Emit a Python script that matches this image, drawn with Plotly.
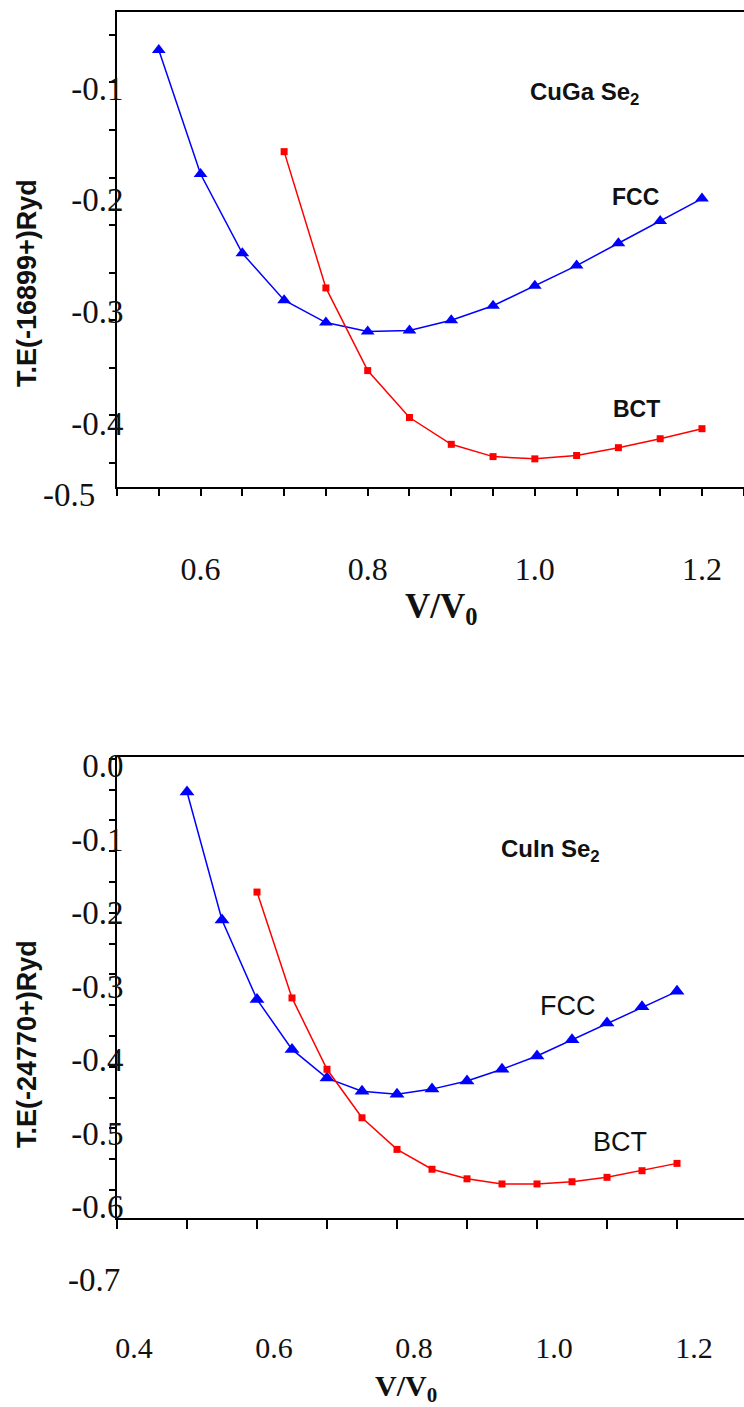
import plotly.graph_objects as go

# ---------------- data ----------------
# Top panel: CuGaSe2
fcc_top_x = [0.55, 0.60, 0.65, 0.70, 0.75, 0.80, 0.85, 0.90, 0.95, 1.00, 1.05, 1.10, 1.15, 1.20]
fcc_top_y = [-0.066, -0.177, -0.248, -0.290, -0.310, -0.318, -0.317, -0.308, -0.295, -0.277,
             -0.259, -0.239, -0.219, -0.199]
bct_top_x = [0.70, 0.75, 0.80, 0.85, 0.90, 0.95, 1.00, 1.05, 1.10, 1.15, 1.20]
bct_top_y = [-0.157, -0.279, -0.353, -0.395, -0.419, -0.430, -0.432, -0.429, -0.422, -0.414, -0.405]

# Bottom panel: CuInSe2
fcc_bot_x = [0.50, 0.55, 0.60, 0.65, 0.70, 0.75, 0.80, 0.85, 0.90, 0.95, 1.00, 1.05, 1.10, 1.15, 1.20]
fcc_bot_y = [-0.036, -0.210, -0.318, -0.386, -0.425, -0.443, -0.447, -0.440, -0.429, -0.413,
             -0.395, -0.373, -0.350, -0.328, -0.307]
bct_bot_x = [0.60, 0.65, 0.70, 0.75, 0.80, 0.85, 0.90, 0.95, 1.00, 1.05, 1.10, 1.15, 1.20]
bct_bot_y = [-0.172, -0.316, -0.413, -0.479, -0.522, -0.549, -0.562, -0.569, -0.569, -0.566,
             -0.560, -0.551, -0.541]

# tick labels
top_xticks = [0.6, 0.8, 1.0, 1.2]
top_yticks = [-0.1, -0.2, -0.3, -0.4]
bot_xticks = [0.4, 0.6, 0.8, 1.0, 1.2]
bot_yticks = [0.0, -0.1, -0.2, -0.3, -0.4, -0.5, -0.6]

# ---------------- figure ----------------
W, H = 744, 1407
BLUE = "#0000ff"
RED = "#ff0000"
SERIF = "Liberation Serif"
SANS = "Liberation Sans"


def px(x):
    return x / W


def py(y):
    return 1 - y / H


fig = go.Figure()


def add_pair(xa, ya, fx, fy, bx, by, tri):
    fig.add_trace(go.Scatter(x=fx, y=fy, xaxis=xa, yaxis=ya, mode="lines+markers", name="FCC",
                             line=dict(color=BLUE, width=1.5),
                             marker=dict(symbol="triangle-up", size=tri, color=BLUE)))
    fig.add_trace(go.Scatter(x=bx, y=by, xaxis=xa, yaxis=ya, mode="lines+markers", name="BCT",
                             line=dict(color=RED, width=1.5),
                             marker=dict(symbol="square", size=7, color=RED)))


add_pair("x", "y", fcc_top_x, fcc_top_y, bct_top_x, bct_top_y, 12)
add_pair("x2", "y2", fcc_bot_x, fcc_bot_y, bct_bot_x, bct_bot_y, 13)

xdom = [px(117), 1.0]
top_dom = [py(487), py(12)]
bot_dom = [py(1218), py(757)]

axis_common = dict(showgrid=False, zeroline=False, showline=True, linecolor="black",
                   linewidth=2, color="black", automargin=False)
tickmark = dict(ticks="outside", tickwidth=1.5, tickcolor="black")

fig.update_layout(
    width=W, height=H,
    margin=dict(l=0, r=0, t=0, b=0, autoexpand=False),
    paper_bgcolor="white", plot_bgcolor="white",
    showlegend=False,
    xaxis=dict(domain=xdom, anchor="y", range=[0.5, 1.2503],
               tickmode="array", tickvals=top_xticks,
               ticktext=[f"{v:.1f}" for v in top_xticks],
               ticklen=7, **tickmark,
               minor=dict(tick0=0.5, dtick=0.05, ticklen=7, **tickmark),
               ticklabelstandoff=46, mirror=True,
               tickfont=dict(family=SERIF, size=32, color="#111"), **axis_common),
    yaxis=dict(domain=top_dom, anchor="x", range=[-0.4572, -0.0320],
               tickmode="array", tickvals=top_yticks,
               ticktext=[f"{v:.1f}" for v in top_yticks],
               ticks="", ticklabelstandoff=-15,
               minor=dict(tick0=-0.43572, dtick=0.042578, ticklen=6, **tickmark),
               tickfont=dict(family=SERIF, size=33, color="#111"), **axis_common),
    xaxis2=dict(domain=xdom, anchor="y2", range=[0.4, 1.2957],
                tickmode="array", tickvals=bot_xticks,
                ticktext=[f"{v:.1f}" for v in bot_xticks],
                ticklen=9, **tickmark,
                minor=dict(tick0=0.4, dtick=0.1, ticklen=9, **tickmark),
                ticklabelstandoff=93, ticklabelshift=17, mirror=True,
                tickfont=dict(family=SERIF, size=30, color="#111"), **axis_common),
    yaxis2=dict(domain=bot_dom, anchor="x2", range=[-0.6153, 0.0117],
                tickmode="array", tickvals=bot_yticks,
                ticktext=[f"{v:.1f}" for v in bot_yticks],
                ticks="", ticklabelstandoff=-15,
                minor=dict(tick0=-0.57726, dtick=0.041893, ticklen=6, **tickmark),
                tickfont=dict(family=SERIF, size=33, color="#111"), **axis_common),
)


def ann(text, x, y, size, family=SANS, weight="normal", xanchor="center", angle=0):
    fig.add_annotation(text=text, x=px(x), y=py(y), xref="paper", yref="paper",
                       xanchor=xanchor, yanchor="middle", showarrow=False, textangle=angle,
                       font=dict(family=family, size=size, color="#111", weight=weight))


# compound names and phase labels
ann("CuGa Se<sub>2</sub>", 584, 93, 24, weight="bold")
ann("FCC", 635, 197, 23, weight="bold")
ann("BCT", 636, 409, 23, weight="bold")
ann("CuIn Se<sub>2</sub>", 550, 850, 24, weight="bold")
ann("FCC", 568, 1006, 27)
ann("BCT", 620, 1142, 27)

# axis titles
ann("T.E(-16899+)Ryd", 27, 283, 27, weight="bold", angle=-90)
ann("T.E(-24770+)Ryd", 27, 1044, 27, weight="bold", angle=-90)
ann("V/V<sub>0</sub>", 441, 609, 35, family=SERIF, weight="bold")
ann("V/V<sub>0</sub>", 406, 1388, 30, family=SERIF, weight="bold")

# stray tick labels that sit outside the drawn axis span
ann("-0.5", 97, 495, 33, family=SERIF, xanchor="right")
ann("-0.7", 122, 1280, 33, family=SERIF, xanchor="right")

fig.write_html("out.html", config={"displayModeBar": False},
               post_script="document.body.style.margin='0px';document.body.style.overflow='hidden';")
